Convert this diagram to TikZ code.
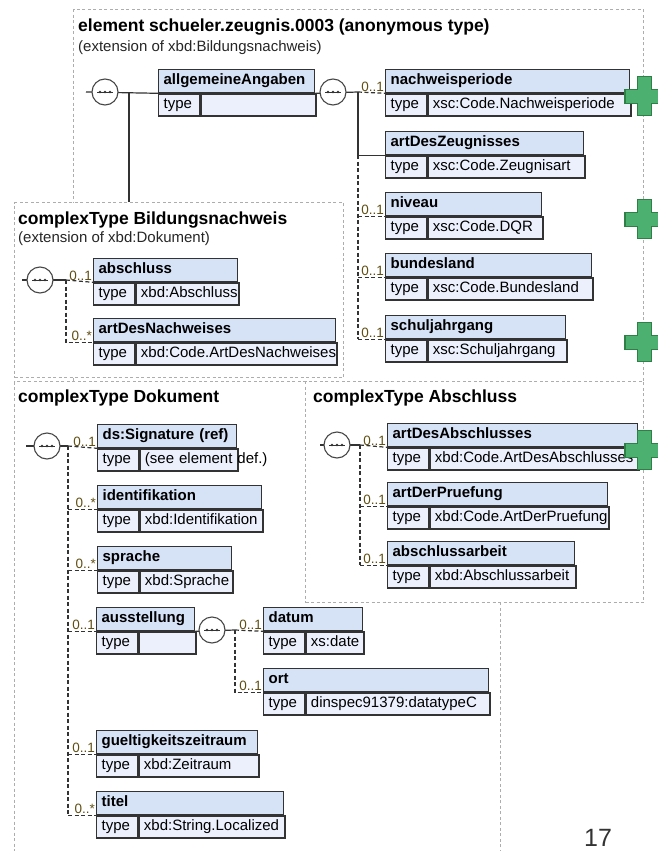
\documentclass[tikz,border=0pt]{standalone}
\usepackage{fontspec}
\setmainfont{Liberation Sans}
\usepackage{tikz}
\usetikzlibrary{calc}
\definecolor{HeadBlue}{rgb}{0.84,0.89,0.97}
\definecolor{TypeBlue}{rgb}{0.92,0.94,0.99}
\definecolor{BoxLine}{rgb}{0.2,0.2,0.2}
\definecolor{FrameGray}{rgb}{0.68,0.68,0.68}
\definecolor{MultText}{rgb}{0.38,0.31,0.08}
\definecolor{PlusGreen}{rgb}{0.30,0.69,0.44}
\definecolor{PlusDark}{rgb}{0.18,0.50,0.28}

\tikzset{
  xsdframe/.style={draw=FrameGray,line width=1.2pt,dash pattern=on 3pt off 2.5pt,fill=white,anchor=north west,inner sep=0pt},
  titletext/.style={anchor=base west,inner sep=0pt,text=black,font=\fontsize{17.5}{20}\selectfont\bfseries},
  subtext/.style={anchor=base west,inner sep=0pt,text=black!85,font=\fontsize{15}{18}\selectfont},
  ehead/.style={draw=BoxLine,line width=1.3pt,fill=HeadBlue,anchor=north west,align=left,inner xsep=5pt,inner ysep=4.25pt,text height=11pt,text depth=3.5pt,font=\fontsize{15}{18}\selectfont\bfseries},
  etype/.style={draw=BoxLine,line width=1.3pt,fill=TypeBlue,anchor=north west,align=left,text width=31pt,inner xsep=5pt,inner ysep=3.75pt,text height=11pt,text depth=3.5pt,font=\fontsize{15}{18}\selectfont},
  evalue/.style={etype},
  mult/.style={anchor=south east,inner sep=1pt,text=MultText,font=\fontsize{13.5}{15}\selectfont},
  seqcirc/.style={circle,draw=BoxLine!90,line width=1.1pt,fill=white,minimum size=26pt,inner sep=0pt},
  conn/.style={draw=BoxLine,line width=1.2pt},
  opt/.style={conn,dash pattern=on 4pt off 2.5pt},
  plusmark/.style={draw=PlusDark,fill=PlusGreen,line width=1.2pt,line join=miter},
  pagenum/.style={inner sep=0pt,text=black!80,font=\fontsize{25}{30}\selectfont}
}

\newcommand{\xsdelem}[6]{%
  \pgfmathsetmacro{\elemhw}{#4-10}%
  \pgfmathsetmacro{\elemvw}{#4-51}%
  \node[ehead,text width=\elemhw pt] (#1) at (#2,#3) {#5};
  \node[etype] (#1-t) at (#1.south west) {type};
  \node[evalue,text width=\elemvw pt] (#1-v) at (#1-t.north east) {\mbox{#6}};
}
\newcommand{\xsdseq}[3]{%
  \node[seqcirc] (#1) at (#2,#3) {};
  \draw[BoxLine,line width=1pt] ($(#1.center)+(-8,0)$) -- ($(#1.center)+(8,0)$);
  \foreach \dx in {-5,0,5} \fill[BoxLine] ($(#1.center)+(\dx,0)$) circle (1.4pt);
}
\newcommand{\xsdplus}[1]{%
  \draw[plusmark] ($(plusx |- #1.south)+(-7,-16.5)$) -- ++(14,0) -- ++(0,12.5) -- ++(12.5,0) -- ++(0,14) -- ++(-12.5,0) -- ++(0,12.5) -- ++(-14,0) -- ++(0,-12.5) -- ++(-12.5,0) -- ++(0,-14) -- ++(12.5,0) -- cycle;
}

\begin{document}
\begin{tikzpicture}[x=1pt,y=-1pt]
      \useasboundingbox (0,0) rectangle (657,851);
      \node[xsdframe,minimum width=570pt,minimum height=593pt] (elemframe) at (73,9) {};
      \node[xsdframe,minimum width=329pt,minimum height=175pt] (bnframe) at (14,202) {};
      \node[xsdframe,minimum width=486pt,minimum height=480pt] (dokframe) at (14,381) {};
      \node[xsdframe,minimum width=338pt,minimum height=221pt] (abframe) at (305,381) {};
      \coordinate (plusx) at (644.5,0);

      \node[titletext] (elemtitle) at (78,32) {element schueler.zeugnis.0003 (anonymous type)};
      \node[subtext] (elemsub) at (78,52) {(extension of xbd:Bildungsnachweis)};
      \node[titletext] (bntitle) at (18,224) {complexType Bildungsnachweis};
      \node[subtext] (bnsub) at (18,242) {(extension of xbd:Dokument)};
      \node[titletext] (doktitle) at (18,402) {complexType Dokument};
      \node[titletext] (abtitle) at (313,402) {complexType Abschluss};

      \xsdelem{allg}{158}{69}{156}{allgemeineAngaben}{}
      \xsdelem{nachweis}{385}{69}{244}{nachweisperiode}{xsc:Code.Nachweisperiode}
      \xsdelem{zeugnis}{385}{131}{198}{artDesZeugnisses}{xsc:Code.Zeugnisart}
      \xsdelem{niveau}{385}{192}{156}{niveau}{xsc:Code.DQR}
      \xsdelem{bundes}{385}{253}{206}{bundesland}{xsc:Code.Bundesland}
      \xsdelem{schul}{385}{315}{180}{schuljahrgang}{xsc:Schuljahrgang}

      \xsdelem{abschluss}{93}{258}{144}{abschluss}{xbd:Abschluss}
      \xsdelem{artnach}{93}{318}{242}{artDesNachweises}{xbd:Code.ArtDesNachweises}

      \xsdelem{sig}{97}{424}{139}{ds:Signature (ref)}{(see element def.)}
      \xsdelem{ident}{97}{485}{164}{identifikation}{xbd:Identifikation}
      \xsdelem{sprache}{97}{546}{134}{sprache}{xbd:Sprache}
      \xsdelem{ausst}{96}{607}{98}{ausstellung}{}
      \xsdelem{datum}{263}{607}{99}{datum}{xs:date}
      \xsdelem{ort}{263}{668}{225}{ort}{dinspec91379:datatypeC}
      \xsdelem{gueltig}{96}{730}{161}{gueltigkeitszeitraum}{xbd:Zeitraum}
      \xsdelem{titel}{96}{791}{187}{titel}{xbd:String.Localized}

      \xsdelem{artabs}{387}{423}{250}{artDesAbschlusses}{xbd:Code.ArtDesAbschlusses}
      \xsdelem{pruef}{387}{482}{220}{artDerPruefung}{xbd:Code.ArtDerPruefung}
      \xsdelem{arbeit}{387}{541}{187}{abschlussarbeit}{xbd:Abschlussarbeit}

      \coordinate (elemin) at (86,92);
      \coordinate (elembr) at (129,92);
      \coordinate (allgbr) at (358,92);
      \draw[conn] (elemin) -- (allg.south west);
      \draw[conn] (elembr) -- (elembr |- bnframe.north);
      \draw[conn] (allg.south east) -- (allgbr);
      \draw[opt] (allgbr) -- (nachweis.south west);
      \draw[conn] (allgbr) -- (allgbr |- zeugnis.south west) -- (zeugnis.south west);
      \draw[opt] (allgbr |- zeugnis.south west) -- (allgbr |- schul.south west);
      \foreach \el in {niveau,bundes,schul} \draw[opt] (allgbr |- \el.south west) -- (\el.south west);
      \xsdseq{seqelem}{105}{92}
      \xsdseq{seqallg}{333}{92}

      \coordinate (bnin) at (22,280);
      \coordinate (bnbr) at (66,280);
      \draw[conn] (bnin) -- (bnbr);
      \draw[opt] (bnbr) -- (abschluss.south west);
      \draw[opt] (bnbr) -- (bnbr |- artnach.south west) -- (artnach.south west);
      \xsdseq{seqbn}{40}{280}

      \coordinate (dokin) at (26,446);
      \coordinate (dokbr) at (68,446);
      \draw[conn] (dokin) -- (dokbr);
      \draw[opt] (dokbr) -- (sig.south west);
      \draw[opt] (dokbr) -- (dokbr |- titel.south west);
      \foreach \el in {ident,sprache,ausst,gueltig,titel} \draw[opt] (dokbr |- \el.south west) -- (\el.south west);
      \xsdseq{seqdok}{47}{446}

      \coordinate (ausbr) at (235,630);
      \draw[conn] (ausst.south east) -- (ausbr);
      \draw[opt] (ausbr) -- (datum.south west);
      \draw[opt] (ausbr) -- (ausbr |- ort.south west) -- (ort.south west);
      \xsdseq{seqaus}{212}{630}

      \coordinate (abin) at (320,445);
      \coordinate (abbr) at (360,445);
      \draw[conn] (abin) -- (abbr);
      \draw[opt] (abbr) -- (artabs.south west);
      \draw[opt] (abbr) -- (abbr |- arbeit.south west);
      \foreach \el in {pruef,arbeit} \draw[opt] (abbr |- \el.south west) -- (\el.south west);
      \xsdseq{seqab}{337}{445}

      \node[mult] (nachweis-m) at (nachweis.south west) {0..1};
      \node[mult] (niveau-m) at (niveau.south west) {0..1};
      \node[mult] (bundes-m) at (bundes.south west) {0..1};
      \node[mult] (schul-m) at (schul.south west) {0..1};
      \node[mult] (abschluss-m) at (abschluss.south west) {0..1};
      \node[mult] (artnach-m) at (artnach.south west) {0..*};
      \node[mult] (sig-m) at (sig.south west) {0..1};
      \node[mult] (ident-m) at (ident.south west) {0..*};
      \node[mult] (sprache-m) at (sprache.south west) {0..*};
      \node[mult] (ausst-m) at (ausst.south west) {0..1};
      \node[mult] (datum-m) at (datum.south west) {0..1};
      \node[mult] (ort-m) at (ort.south west) {0..1};
      \node[mult] (gueltig-m) at (gueltig.south west) {0..1};
      \node[mult] (titel-m) at (titel.south west) {0..*};
      \node[mult] (artabs-m) at (artabs.south west) {0..1};
      \node[mult] (pruef-m) at (pruef.south west) {0..1};
      \node[mult] (arbeit-m) at (arbeit.south west) {0..1};

      \xsdplus{nachweis}
      \xsdplus{niveau}
      \xsdplus{schul}
      \xsdplus{artabs}

      \node[pagenum] (pagenum) at (598,838) {17};
\end{tikzpicture}
\end{document}
